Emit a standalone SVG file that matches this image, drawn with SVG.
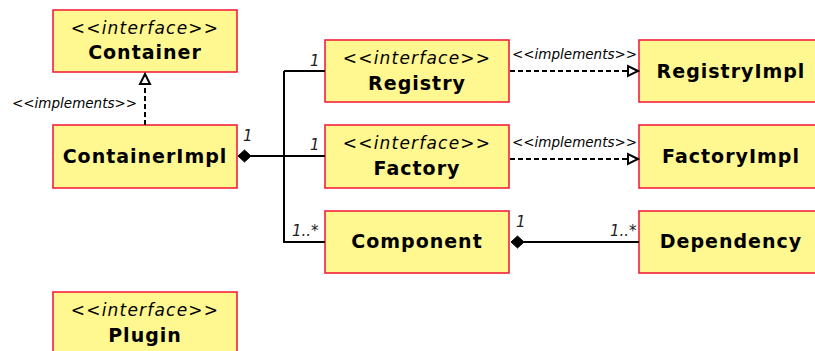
<svg xmlns="http://www.w3.org/2000/svg" width="815" height="351" viewBox="0 0 815 351">
<style>
.box{fill:#fff78f;stroke:#f4203c;stroke-width:1.6}
.st{font-family:"DejaVu Sans",Verdana,sans-serif;font-style:italic;font-size:17px;letter-spacing:1.2px;text-anchor:middle;fill:#000}
.nm{font-family:"DejaVu Sans",Verdana,sans-serif;font-weight:bold;font-size:19px;letter-spacing:1px;text-anchor:middle;fill:#000}
.lbl{font-family:"DejaVu Sans",Verdana,sans-serif;font-style:italic;font-size:13.5px;fill:#000}
.mul{font-family:"DejaVu Sans",Verdana,sans-serif;font-style:italic;font-size:15px;fill:#222}
.solid{fill:none;stroke:#000;stroke-width:2}
.dash{fill:none;stroke:#000;stroke-width:2;stroke-dasharray:5,3}
.tri{fill:#fff;stroke:#000;stroke-width:2}
.dia{fill:#000;stroke:#000;stroke-width:1}
</style>
<g id="Container"><rect class="box" x="53" y="10" width="184" height="62"/><text class="st" x="145" y="34">&lt;&lt;interface&gt;&gt;</text><text class="nm" x="145" y="59">Container</text></g>
<g id="ContainerImpl"><rect class="box" x="53" y="125" width="184" height="63"/><text class="nm" x="145" y="163">ContainerImpl</text></g>
<g id="Registry"><rect class="box" x="325" y="40" width="184" height="62"/><text class="st" x="417" y="64">&lt;&lt;interface&gt;&gt;</text><text class="nm" x="417" y="90">Registry</text></g>
<g id="Factory"><rect class="box" x="325" y="125" width="184" height="63"/><text class="st" x="417" y="149">&lt;&lt;interface&gt;&gt;</text><text class="nm" x="417" y="175">Factory</text></g>
<g id="Component"><rect class="box" x="325" y="211" width="184" height="62"/><text class="nm" x="417" y="248">Component</text></g>
<g id="RegistryImpl"><rect class="box" x="639" y="40" width="184" height="62"/><text class="nm" x="731" y="78">RegistryImpl</text></g>
<g id="FactoryImpl"><rect class="box" x="639" y="125" width="184" height="63"/><text class="nm" x="731" y="163">FactoryImpl</text></g>
<g id="Dependency"><rect class="box" x="639" y="211" width="184" height="62"/><text class="nm" x="731" y="248">Dependency</text></g>
<g id="Plugin"><rect class="box" x="53" y="292" width="184" height="70"/><text class="st" x="145" y="316">&lt;&lt;interface&gt;&gt;</text><text class="nm" x="145" y="342">Plugin</text></g>
<g id="connectors">
<path class="dash" d="M145,125 V84"/>
<path class="tri" d="M145,74 L150,84 L140,84 Z"/>
<text class="lbl" x="12" y="108">&lt;&lt;implements&gt;&gt;</text>
<path class="solid" d="M251,156 H325 M284,71 H325 M284,71 V242 H325"/>
<path class="dia" d="M238,156 L244.5,150 L251,156 L244.5,162 Z"/>
<text class="mul" x="243" y="141">1</text>
<text class="mul" x="310" y="66">1</text>
<text class="mul" x="310" y="150">1</text>
<text class="mul" x="292" y="236">1..*</text>
<path class="dash" d="M510,71 H628"/>
<path class="tri" d="M638,71 L628,66 L628,76 Z"/>
<text class="lbl" x="512" y="59">&lt;&lt;implements&gt;&gt;</text>
<path class="dash" d="M510,159 H628"/>
<path class="tri" d="M638,159 L628,154 L628,164 Z"/>
<text class="lbl" x="512" y="147">&lt;&lt;implements&gt;&gt;</text>
<path class="solid" d="M524,242 H639"/>
<path class="dia" d="M511,242 L517.5,236 L524,242 L517.5,248 Z"/>
<text class="mul" x="516" y="227">1</text>
<text class="mul" x="610" y="236">1..*</text>
</g>
</svg>
